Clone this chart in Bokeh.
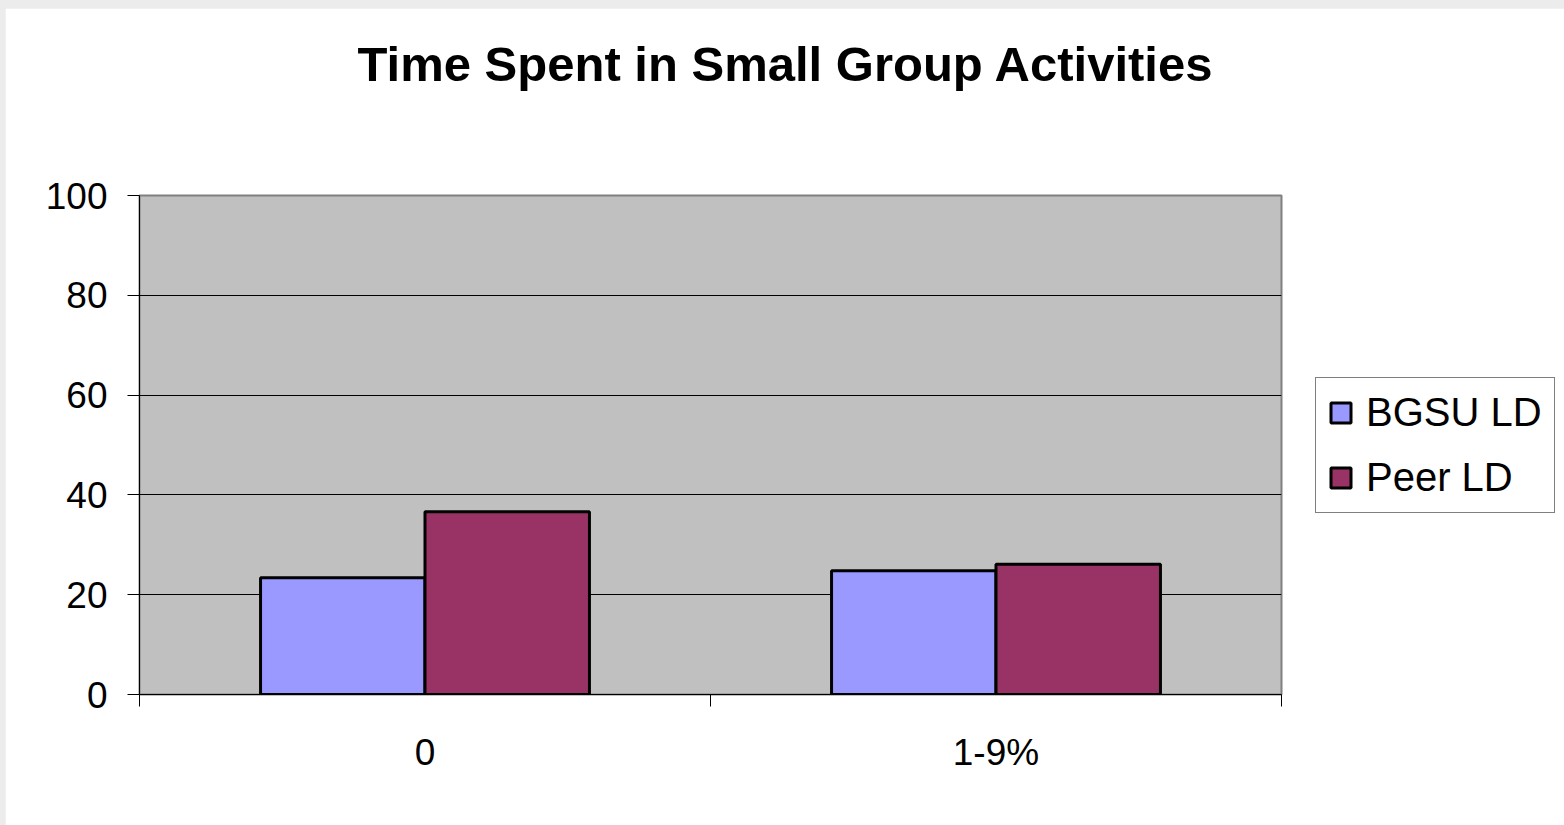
from bokeh.plotting import figure
from bokeh.models import Range1d, FixedTicker, Legend, LegendItem, Title
from bokeh.embed import file_html
from bokeh.resources import INLINE

# ---- data ----
title_text = "Time Spent in Small Group Activities"
categories = ["0", "1-9%"]
series_names = ["BGSU LD", "Peer LD"]
bgsu_ld = [23.4, 24.8]
peer_ld = [36.6, 26.1]
series_colors = ["#9999FF", "#993366"]
y_ticks = [0, 20, 40, 60, 80, 100]

FONT = "Liberation Sans"

# figure sits at page offset (5, 8): a thin grey slide edge shows top/left
W, H = 1559, 817
FL, FR, FT, FB = 134, 1276, 187, 686   # frame edges in figure pixels

p = figure(frame_width=FR - FL, frame_height=FB - FT,
           output_backend="svg", toolbar_location=None,
           x_range=Range1d(0, len(categories)), y_range=Range1d(0, 100),
           min_border_left=FL, min_border_right=W - FR,
           min_border_top=FT, min_border_bottom=H - FB)
p.background_fill_color = "#C0C0C0"
p.border_fill_color = "#FFFFFF"
p.outline_line_color = "#808080"
p.outline_line_width = 2

# title: a blank spacer next to the frame, then the real title above it
p.add_layout(Title(text=" ", text_font_size="1px", standoff=97), "above")
p.add_layout(Title(text=title_text, text_font=FONT, text_font_style="bold",
                   text_font_size="49px", text_color="#000000",
                   align="left", offset=218, standoff=10), "above")

# bars
centers = [i + 0.5 for i in range(len(categories))]
bw = 0.288
r1 = p.vbar(x=[c - bw / 2 for c in centers], top=bgsu_ld, width=bw, bottom=0,
            fill_color=series_colors[0], line_color="#000000", line_width=3)
r2 = p.vbar(x=[c + bw / 2 for c in centers], top=peer_ld, width=bw, bottom=0,
            fill_color=series_colors[1], line_color="#000000", line_width=3)

# y axis
yax = p.yaxis[0]
yax.ticker = FixedTicker(ticks=y_ticks, minor_ticks=[])
yax.major_tick_in = 0
yax.major_tick_out = 12
yax.major_tick_line_color = "#000000"
yax.axis_line_color = "#000000"
yax.major_label_text_font = FONT
yax.major_label_text_font_size = "37px"
yax.major_label_text_color = "#000000"
yax.major_label_standoff = 20

# x axis: labels at category centres, ticks at category boundaries
xax = p.xaxis[0]
xax.ticker = FixedTicker(ticks=centers, minor_ticks=list(range(len(categories) + 1)))
xax.major_label_overrides = {c: lab for c, lab in zip(centers, categories)}
xax.major_tick_in = 0
xax.major_tick_out = 0
xax.minor_tick_in = 0
xax.minor_tick_out = 12
xax.minor_tick_line_color = "#000000"
xax.axis_line_color = "#000000"
xax.major_label_text_font = FONT
xax.major_label_text_font_size = "37px"
xax.major_label_text_color = "#000000"
xax.major_label_standoff = 25

# grid
p.xgrid.visible = False
p.ygrid.ticker = FixedTicker(ticks=y_ticks)
p.ygrid.grid_line_color = "#000000"
p.ygrid.grid_line_width = 1

legend = Legend(items=[LegendItem(label=series_names[0], renderers=[r1]),
                       LegendItem(label=series_names[1], renderers=[r2])],
                location="center_left")
legend.label_text_font = FONT
legend.label_text_font_size = "40px"
legend.label_text_color = "#000000"
legend.glyph_width = 25
legend.glyph_height = 25
legend.label_height = 41
legend.label_standoff = 13
legend.spacing = 20
legend.padding = 12
legend.margin = 34
legend.border_line_color = "#000000"
legend.border_line_width = 1
legend.background_fill_color = "#FFFFFF"
legend.background_fill_alpha = 1.0
p.add_layout(legend, "right")

html = file_html(p, INLINE)
html = html.replace(
    "</head>",
    "<style>html,body{background:#ececec !important;}"
    "body{padding:8px 0 0 5px !important;overflow:hidden;}</style></head>", 1)
open("out.html", "w").write(html)
